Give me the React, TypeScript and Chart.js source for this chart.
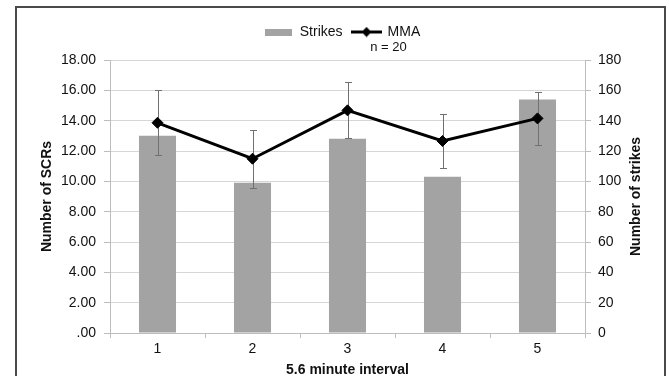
import React, { useEffect, useRef } from 'react';
import { Chart, registerables } from 'chart.js';

Chart.register(...registerables);

// ---- data ----
const categories = ['1', '2', '3', '4', '5'];
const strikes = [130, 99, 128, 103, 154];
const mma = [13.86, 11.49, 14.68, 12.66, 14.15];
const mmaErr = [2.15, 1.9, 1.85, 1.8, 1.75];
const sampleNote = 'n = 20';
const xTitle = '5.6 minute interval';
const leftTitle = 'Number of SCRs';
const rightTitle = 'Number of strikes';

const FONT = "'Liberation Sans', Arial, Helvetica, sans-serif";
const BAR_COLOR = '#a3a3a3';
const GRID_COLOR = '#d6d6d6';
const AXIS_COLOR = '#bdbdbd';
const TEXT_COLOR = '#111111';

function makeStrikesIcon() {
  const c = document.createElement('canvas');
  c.width = 27;
  c.height = 7;
  const g = c.getContext('2d')!;
  g.fillStyle = BAR_COLOR;
  g.fillRect(0, 0, 27, 7);
  return c;
}

function makeMmaIcon() {
  const c = document.createElement('canvas');
  c.width = 31;
  c.height = 11;
  const g = c.getContext('2d')!;
  g.fillStyle = '#000';
  g.fillRect(0, 4, 31, 3);
  g.beginPath();
  g.moveTo(15.5 - 5, 5.5);
  g.lineTo(15.5, 0.5);
  g.lineTo(15.5 + 5, 5.5);
  g.lineTo(15.5, 10.5);
  g.closePath();
  g.fill();
  return c;
}

const errorBarsPlugin = {
  id: 'errorBars',
  afterDatasetDraw(chart: any, args: any) {
    if (args.index !== 0) return;
    const meta = chart.getDatasetMeta(1);
    const ys = chart.scales.y;
    const ctx = chart.ctx;
    ctx.save();
    ctx.strokeStyle = '#707070';
    ctx.lineWidth = 1;
    meta.data.forEach((pt: any, i: number) => {
      const x = Math.round(pt.x) + 0.5;
      const yt = Math.round(ys.getPixelForValue(mma[i] + mmaErr[i])) + 0.5;
      const yb = Math.round(ys.getPixelForValue(mma[i] - mmaErr[i])) + 0.5;
      ctx.beginPath();
      ctx.moveTo(x, yt);
      ctx.lineTo(x, yb);
      ctx.moveTo(x - 3.5, yt);
      ctx.lineTo(x + 3.5, yt);
      ctx.moveTo(x - 3.5, yb);
      ctx.lineTo(x + 3.5, yb);
      ctx.stroke();
    });
    ctx.restore();
  },
};

const legendSpacePlugin = {
  id: 'legendSpace',
  beforeUpdate(chart: any) {
    const lg = chart.legend;
    if (lg && !lg.__patched) {
      lg.__patched = true;
      const origFit = lg.fit;
      lg.fit = function () {
        origFit.call(this);
        this.height += 11;
      };
    }
  },
};

const textPlugin = {
  id: 'extraText',
  afterDraw(chart: any) {
    const ctx = chart.ctx;
    const area = chart.chartArea;
    ctx.save();
    // right axis title, reading bottom-to-top
    ctx.font = `bold 14px ${FONT}`;
    ctx.fillStyle = TEXT_COLOR;
    ctx.textAlign = 'center';
    ctx.textBaseline = 'middle';
    ctx.translate(chart.width - 33, (area.top + area.bottom) / 2);
    ctx.rotate(-Math.PI / 2);
    ctx.fillText(rightTitle, 0, 0);
    ctx.restore();

    const boxes = chart.legend && chart.legend.legendHitBoxes;
    if (!boxes || !boxes[1]) return;
    const hb = boxes[1];
    ctx.save();
    ctx.font = `13px ${FONT}`;
    ctx.fillStyle = TEXT_COLOR;
    ctx.textAlign = 'center';
    ctx.textBaseline = 'middle';
    ctx.fillText(sampleNote, hb.left + hb.width / 2 + 2, hb.top + hb.height / 2 + 15.5);
    ctx.restore();
  },
};

export default function App() {
  const canvasRef = useRef<HTMLCanvasElement | null>(null);

  useEffect(() => {
    if (!canvasRef.current) return;
    const strikesIcon = makeStrikesIcon();
    const mmaIcon = makeMmaIcon();

    const chart = new Chart(canvasRef.current, {
      type: 'bar',
      data: {
        labels: categories,
        datasets: [
          {
            type: 'bar',
            label: 'Strikes',
            data: strikes,
            yAxisID: 'y1',
            backgroundColor: BAR_COLOR,
            borderWidth: 0,
            categoryPercentage: 1,
            barPercentage: 0.39,
            order: 1,
          },
          {
            type: 'line',
            label: 'MMA',
            data: mma,
            yAxisID: 'y',
            borderColor: '#000',
            backgroundColor: '#000',
            borderWidth: 3,
            pointStyle: 'rectRot',
            pointRadius: 5.5,
            pointBorderWidth: 1,
            pointBackgroundColor: '#000',
            pointBorderColor: '#000',
            tension: 0,
            order: 0,
          },
        ] as any,
      },
      options: {
        animation: false,
        responsive: false,
        maintainAspectRatio: false,
        layout: { padding: { top: 15, left: 16, right: 0, bottom: 0 } },
        plugins: {
          tooltip: { enabled: false },
          legend: {
            position: 'top',
            labels: {
              usePointStyle: true,
              pointStyleWidth: 28,
              padding: 10,
              color: TEXT_COLOR,
              font: { family: FONT, size: 14 },
              generateLabels: () => [
                {
                  text: 'Strikes',
                  pointStyle: strikesIcon,
                  fillStyle: BAR_COLOR,
                  strokeStyle: BAR_COLOR,
                  lineWidth: 0,
                  hidden: false,
                  datasetIndex: 0,
                  fontColor: TEXT_COLOR,
                } as any,
                {
                  text: 'MMA',
                  pointStyle: mmaIcon,
                  fillStyle: '#000',
                  strokeStyle: '#000',
                  lineWidth: 0,
                  hidden: false,
                  datasetIndex: 1,
                  fontColor: TEXT_COLOR,
                } as any,
              ],
            },
          },
        },
        scales: {
          x: {
            type: 'category',
            grid: {
              display: true,
              drawOnChartArea: false,
              drawTicks: true,
              tickLength: 5,
              color: AXIS_COLOR,
              offset: true,
            },
            border: { display: true, color: AXIS_COLOR },
            ticks: {
              color: TEXT_COLOR,
              font: { family: FONT, size: 14 },
              padding: 3,
            },
            title: {
              display: true,
              text: xTitle,
              color: TEXT_COLOR,
              font: { family: FONT, size: 14, weight: 'bold' },
              padding: { top: 4, bottom: -3 },
            },
            afterFit: (scale: any) => {
              scale.height = 43;
            },
          },
          y: {
            type: 'linear',
            position: 'left',
            min: 0,
            max: 18,
            grid: {
              color: GRID_COLOR,
              drawTicks: true,
              tickLength: 6,
              tickColor: AXIS_COLOR,
            },
            border: { display: true, color: AXIS_COLOR },
            ticks: {
              stepSize: 2,
              color: TEXT_COLOR,
              font: { family: FONT, size: 14 },
              padding: 8,
              callback: (v: any) => (v === 0 ? '.00' : Number(v).toFixed(2)),
            },
            title: {
              display: true,
              text: leftTitle,
              color: TEXT_COLOR,
              font: { family: FONT, size: 14, weight: 'bold' },
              padding: { top: 23, bottom: 4 },
            },
            afterFit: (scale: any) => {
              scale.width = 94;
            },
          },
          y1: {
            type: 'linear',
            position: 'right',
            min: 0,
            max: 180,
            grid: {
              drawOnChartArea: false,
              drawTicks: true,
              tickLength: 6,
              color: AXIS_COLOR,
            },
            border: { display: true, color: AXIS_COLOR },
            ticks: {
              stepSize: 20,
              color: TEXT_COLOR,
              font: { family: FONT, size: 14 },
              padding: 7,
            },
            title: { display: false },
            afterFit: (scale: any) => {
              scale.width = 84;
            },
          },
        },
      } as any,
      plugins: [legendSpacePlugin, errorBarsPlugin, textPlugin],
    });

    return () => chart.destroy();
  }, []);

  return (
    <div style={{ position: 'fixed', left: 0, top: 0, width: 669, height: 376, overflow: 'hidden', background: '#fff' }}>
      <div
        style={{
          position: 'absolute',
          left: 15,
          top: 6,
          width: 651,
          height: 370,
          boxSizing: 'border-box',
          border: '2px solid #4a4a4a',
          borderBottom: 'none',
        }}
      />
      <canvas
        ref={canvasRef}
        width={669}
        height={376}
        style={{ position: 'absolute', left: 0, top: 0, width: 669, height: 376 }}
      />
    </div>
  );
}
